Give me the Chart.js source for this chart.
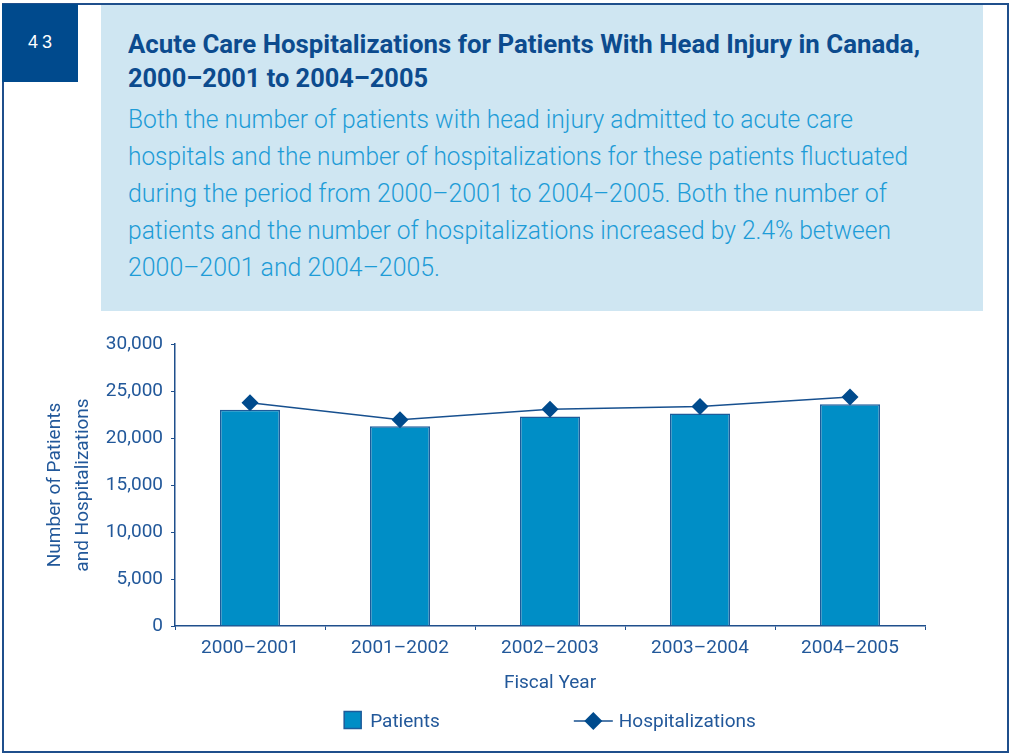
<!DOCTYPE html>
<html>
<head>
<meta charset="utf-8">
<script src="https://cdn.jsdelivr.net/npm/chart.js@4.4.0/dist/chart.umd.min.js"></script>
<style>
  body { margin: 0; width: 1011px; height: 755px; background: #fff; position: relative; overflow: hidden; font-family: Roboto, "Liberation Sans", sans-serif; }
  #frame { position: absolute; left: 2px; top: 3px; width: 1003px; height: 746px; border: 2px solid #1f4f8c; }
  #pageNo { position: absolute; left: 2px; top: 4px; width: 76px; height: 78px; background: #004a8d; color: #fff;
    font-family: "Liberation Sans", sans-serif; font-size: 18px; letter-spacing: 4px; text-indent: 4px; text-align: center; line-height: 76px; }
  #panel { position: absolute; left: 101px; top: 5px; width: 882px; height: 306px; background: #cfe6f2; }
  .line { position: absolute; left: 128px; white-space: nowrap; transform-origin: left center; }
  .ttl { font-weight: 700; font-size: 25px; line-height: 25px; color: #0c4b8e; }
  .txt { font-weight: 300; font-size: 25px; line-height: 25px; color: #1e9cd7; }
  #chartBox { position: absolute; left: 0; top: 320px; }
</style>
</head>
<body>
<div id="frame"></div>
<div id="pageNo">43</div>
<div id="panel"></div>
<div class="line ttl" style="top:32px" data-w="792">Acute Care Hospitalizations for Patients With Head Injury in Canada,</div>
<div class="line ttl" style="top:66px" data-w="300">2000–2001 to 2004–2005</div>
<div class="line txt" style="top:107px" data-w="725">Both the number of patients with head injury admitted to acute care</div>
<div class="line txt" style="top:144px" data-w="780">hospitals and the number of hospitalizations for these patients fluctuated</div>
<div class="line txt" style="top:181px" data-w="759">during the period from 2000–2001 to 2004–2005. Both the number of</div>
<div class="line txt" style="top:218px" data-w="763">patients and the number of hospitalizations increased by 2.4% between</div>
<div class="line txt" style="top:255px" data-w="312">2000–2001 and 2004–2005.</div>
<div id="chartBox"><canvas id="chart" width="1011" height="435"></canvas></div>
<script>
// 차트 데이터
const years = ['2000–2001', '2001–2002', '2002–2003', '2003–2004', '2004–2005'];
const patients = [23000, 21250, 22300, 22600, 23600];
const hospitalizations = [23750, 21950, 23050, 23350, 24350];
const yTickValues = [0, 5000, 10000, 15000, 20000, 25000, 30000];

const inkBlue = '#22589a';
const axisBlue = '#1f4f8c';
const labelFont = { family: 'Roboto', size: 19, weight: 400 };

// 제목/본문 줄 폭 맞추기
document.querySelectorAll('.line').forEach(function(el) {
  el.style.display = 'inline-block';
  const w = el.getBoundingClientRect().width;
  el.style.transform = 'scaleX(' + (Number(el.dataset.w) / w) + ')';
});

// 범례 (사각형 + 선/다이아몬드)
const legendRow = {
  id: 'legendRow',
  afterDraw(chart) {
    const {ctx, chartArea} = chart;
    const sets = chart.data.datasets;
    ctx.save();
    ctx.font = '400 19px Roboto';
    ctx.textBaseline = 'alphabetic';
    const w1 = ctx.measureText(sets[0].label).width;
    const w2 = ctx.measureText(sets[1].label).width;
    const total = 17 + 9 + w1 + 134 + 39 + 6 + w2;
    let x = (chartArea.left + chartArea.right) / 2 - total / 2;
    const y = chartArea.bottom + 94;

    ctx.fillStyle = sets[0].backgroundColor;
    ctx.strokeStyle = sets[0].borderColor;
    ctx.lineWidth = 1.5;
    ctx.fillRect(x, y - 8.5, 17, 17);
    ctx.strokeRect(x, y - 8.5, 17, 17);
    x += 17 + 9;
    ctx.fillStyle = inkBlue;
    ctx.fillText(sets[0].label, x, y + 6.5);
    x += w1 + 134;

    ctx.strokeStyle = sets[1].borderColor;
    ctx.lineWidth = 1.5;
    ctx.beginPath();
    ctx.moveTo(x, y + 1);
    ctx.lineTo(x + 39, y + 1);
    ctx.stroke();
    ctx.fillStyle = sets[1].pointBackgroundColor;
    ctx.beginPath();
    ctx.moveTo(x + 19.5, y - 8);
    ctx.lineTo(x + 28.5, y + 1);
    ctx.lineTo(x + 19.5, y + 10);
    ctx.lineTo(x + 10.5, y + 1);
    ctx.closePath();
    ctx.fill();
    x += 39 + 6;
    ctx.fillStyle = inkBlue;
    ctx.fillText(sets[1].label, x, y + 6.5);
    ctx.restore();
  }
};

new Chart(document.getElementById('chart'), {
  type: 'bar',
  data: {
    labels: years,
    datasets: [{
      type: 'bar',
      label: 'Patients',
      data: patients,
      backgroundColor: '#008ec6',
      borderColor: '#1d5b9a',
      borderWidth: 1.5,
      categoryPercentage: 1,
      barPercentage: 0.4,
      order: 1
    }, {
      type: 'line',
      label: 'Hospitalizations',
      data: hospitalizations,
      borderColor: '#17508f',
      borderWidth: 1.5,
      pointStyle: 'rectRot',
      pointRadius: 8.5,
      pointBackgroundColor: '#004b8d',
      pointBorderColor: '#004b8d',
      pointBorderWidth: 0,
      tension: 0,
      order: 0
    }]
  },
  options: {
    responsive: false,
    animation: false,
    devicePixelRatio: 1,
    locale: 'en-US',
    layout: { padding: { top: 24, left: 0, right: 86, bottom: 51 } },
    plugins: {
      legend: { display: false },
      tooltip: { enabled: false }
    },
    scales: {
      x: {
        offset: true,
        grid: { offset: true, drawOnChartArea: false, drawTicks: true, tickLength: 4, color: axisBlue, lineWidth: 1 },
        border: { display: true, color: axisBlue, width: 1.5 },
        ticks: { color: inkBlue, font: labelFont, padding: 7, maxRotation: 0 },
        title: { display: true, text: 'Fiscal Year', color: inkBlue, font: labelFont, padding: { top: 0, bottom: 9 } },
        afterFit(scale) { scale.height = 78; }
      },
      y: {
        min: 0,
        max: 30000,
        afterBuildTicks(scale) { scale.ticks = yTickValues.map(v => ({ value: v })); },
        grid: { drawOnChartArea: false, drawTicks: true, tickLength: 4, color: axisBlue, lineWidth: 1 },
        border: { display: true, color: axisBlue, width: 1.5 },
        ticks: { color: inkBlue, font: labelFont, padding: 8 },
        title: { display: true, text: ['Number of Patients', 'and Hospitalizations'], color: inkBlue,
          font: { family: 'Roboto', size: 19, weight: 400, lineHeight: 28 / 19 }, padding: { top: 41, bottom: 0 } },
        afterFit(scale) { scale.width = 175; }
      }
    }
  },
  plugins: [legendRow]
});
</script>
</body>
</html>
